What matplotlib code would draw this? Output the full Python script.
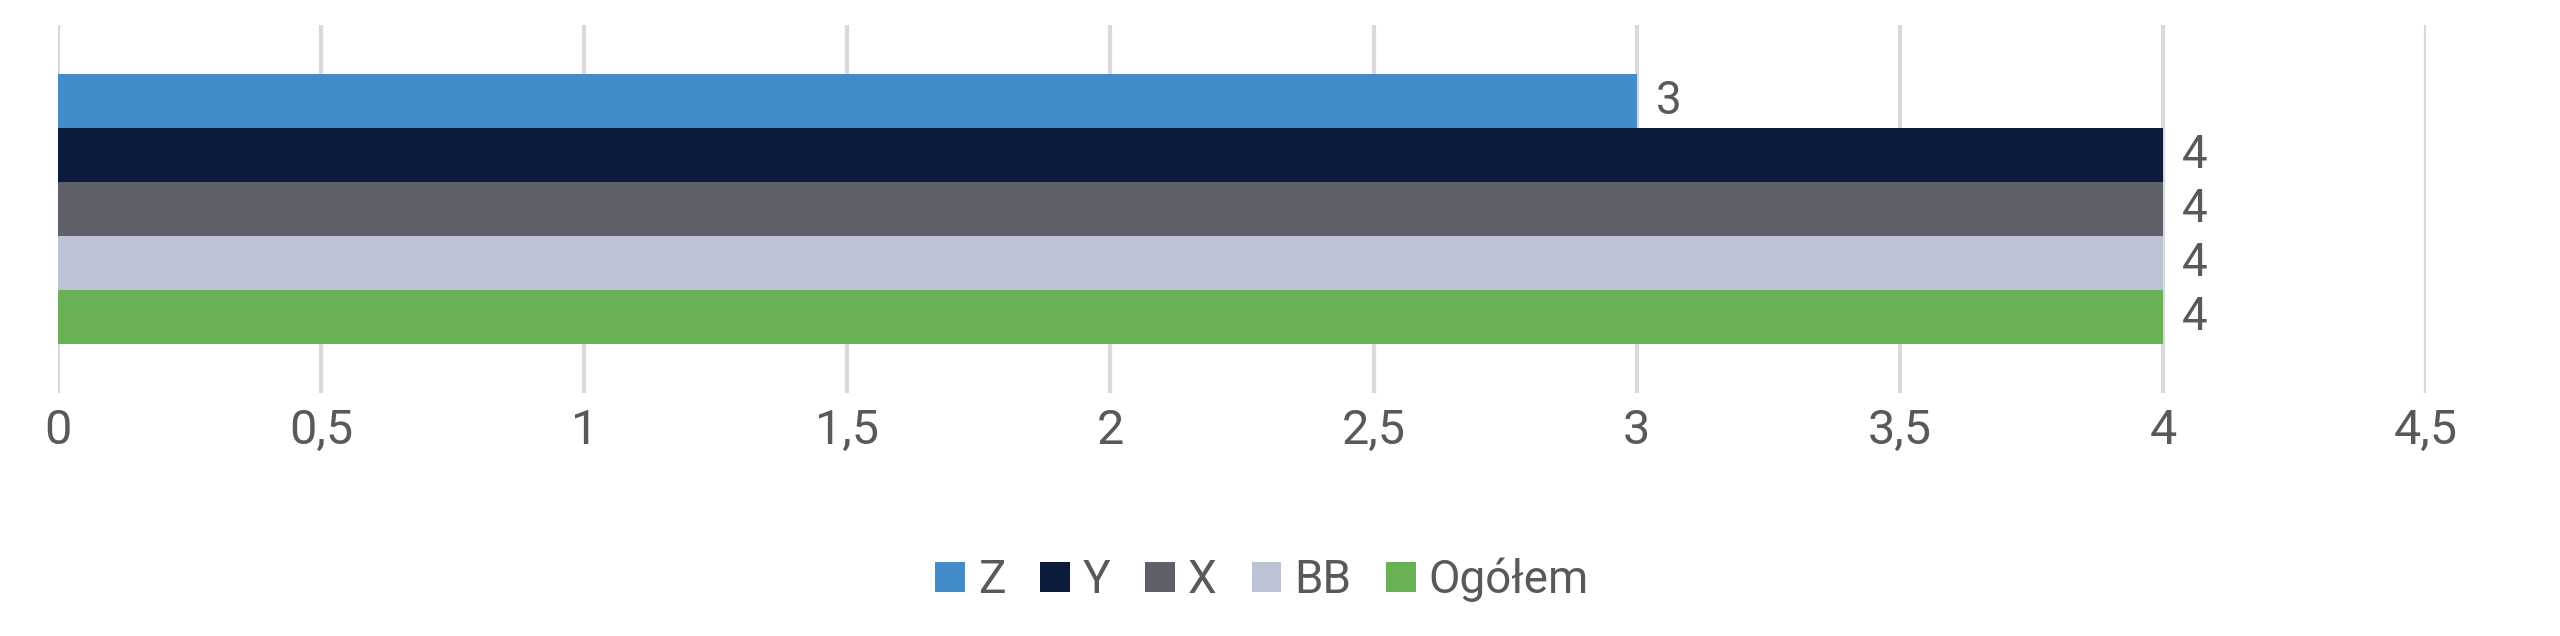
import numpy as np
import matplotlib
matplotlib.use('Agg')
import matplotlib.pyplot as plt

plt.rcParams['font.family'] = ['Roboto', 'DejaVu Sans']

# data (series listed top to bottom as in the chart)
series = ['Z', 'Y', 'X', 'BB', 'Ogółem']
values = [3, 4, 4, 4, 4]
colors = ['#428CCA', '#0C1A3B', '#5E6168', '#BBC3D5', '#6AB155']
xticks = [0, 0.5, 1, 1.5, 2, 2.5, 3, 3.5, 4, 4.5]

txt_col = '#595959'
W, H = 2560, 636
fig = plt.figure(figsize=(W / 100, H / 100), dpi=100)
ax = fig.add_axes([58 / W, 1 - 393 / H, (2426 - 58) / W, (393 - 25) / H])

n = len(series)
h = 0.731 / n
for i, (name, val, col) in enumerate(zip(series, values, colors)):
    y = (n - 1) / 2 * h - i * h
    bars = ax.barh([y], [val], height=h, color=col, label=name, zorder=2)
    ax.bar_label(bars, labels=[str(val)], padding=14, fontsize=33, color=txt_col)

ax.set_xlim(0, 4.5)
ax.set_ylim(-0.5, 0.5)
ax.set_xticks(xticks)
ax.set_xticklabels([('%g' % t).replace('.', ',') for t in xticks], fontsize=35, color=txt_col)
ax.tick_params(axis='x', length=0, pad=11)
ax.set_yticks([])
for s in ax.spines.values():
    s.set_visible(False)
ax.grid(axis='x', color='#D9D9D9', linewidth=3, zorder=0)

ax.legend(loc='center', bbox_to_anchor=(1262 / W, 1 - 580 / H), bbox_transform=fig.transFigure,
          ncol=n, frameon=False, fontsize=33, labelcolor=txt_col,
          handlelength=0.65, handleheight=0.65, handletextpad=0.28, columnspacing=0.76)

fig.savefig('out.png', dpi=100, facecolor='white')
